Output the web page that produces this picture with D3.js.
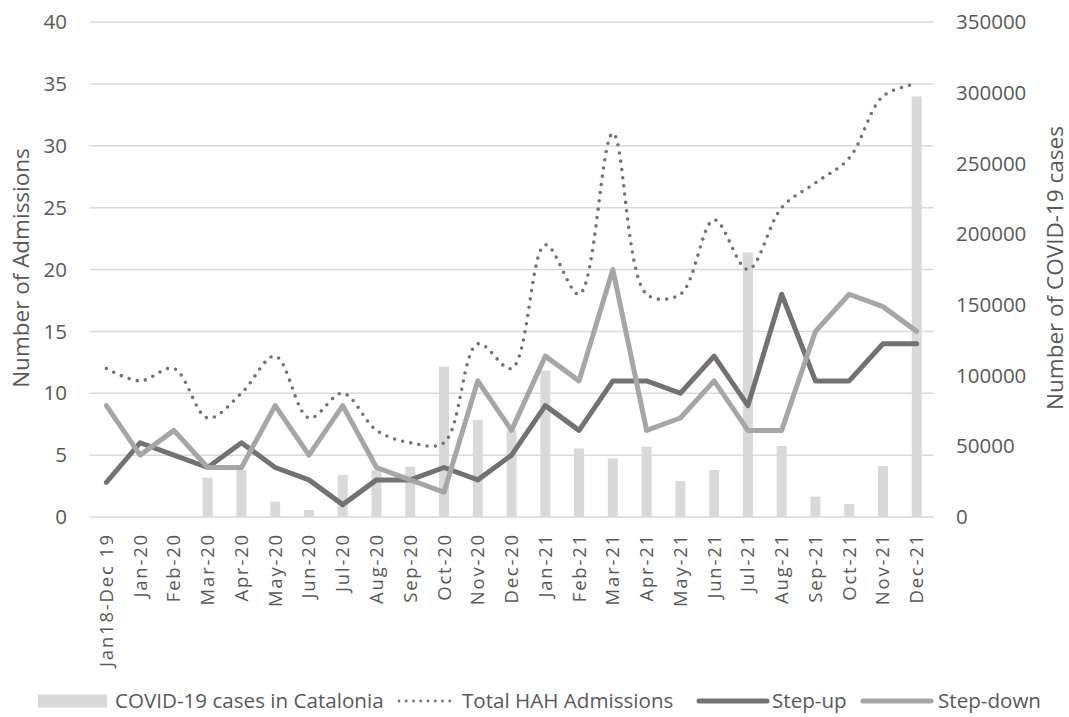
<!DOCTYPE html>
<html>
<head>
<meta charset="utf-8">
<script src="https://d3js.org/d3.v7.min.js"></script>
<style>
  body { margin: 0; background: #fff; }
  text { font-family: "Open Sans", sans-serif; fill: #595959; }
</style>
</head>
<body>
<div id="my_dataviz"></div>
<script>
var months = ["Jan18-Dec 19","Jan-20","Feb-20","Mar-20","Apr-20","May-20","Jun-20","Jul-20","Aug-20","Sep-20","Oct-20","Nov-20","Dec-20",
  "Jan-21","Feb-21","Mar-21","Apr-21","May-21","Jun-21","Jul-21","Aug-21","Sep-21","Oct-21","Nov-21","Dec-21"];
var covidCases = [0,0,0,27800,33200,10800,5000,29800,33200,35500,106300,68600,61500,
  103400,48500,41500,49700,25400,33200,187100,50200,14400,9200,36000,297400];
var totalHAH = [12,11,12,8,10,13,8,10,7,6,6,14,12,22,18,31,18,18,24,20,25,27,29,34,35];
var stepUp = [2.8,6,5,4,6,4,3,1,3,3,4,3,5,9,7,11,11,10,13,9,18,11,11,14,14];
var stepDown = [9,5,7,4,4,9,5,9,4,3,2,11,7,13,11,20,7,8,11,7,7,15,18,17,15];
var leftTicks = [0,5,10,15,20,25,30,35,40];
var rightTicks = [0,50000,100000,150000,200000,250000,300000,350000];

var width = 1069, height = 717;
var plot = {left: 89.5, right: 933.6, top: 22, bottom: 517};

var svg = d3.select("#my_dataviz")
  .append("svg")
  .attr("width", width)
  .attr("height", height);

var x = d3.scaleBand().domain(months).range([plot.left, plot.right]);
var yL = d3.scaleLinear().domain([0, 40]).range([plot.bottom, plot.top]);
var yR = d3.scaleLinear().domain([0, 350000]).range([plot.bottom, plot.top]);
var cx = function(d, i) { return x(months[i]) + x.bandwidth() / 2; };

// gridlines
svg.append("g").selectAll("line").data(leftTicks).enter().append("line")
  .attr("x1", plot.left).attr("x2", plot.right)
  .attr("y1", d => yL(d)).attr("y2", d => yL(d))
  .style("stroke", "#d9d9d9").style("stroke-width", 1.5);

// left axis labels
svg.append("g").selectAll("text").data(leftTicks).enter().append("text")
  .attr("x", 67).attr("y", d => yL(d)).attr("dy", "0.35em")
  .style("text-anchor", "end").style("font-size", "20.5px")
  .text(d => d);

// right axis labels
svg.append("g").selectAll("text").data(rightTicks).enter().append("text")
  .attr("x", 956).attr("y", d => yR(d)).attr("dy", "0.35em")
  .style("text-anchor", "start").style("font-size", "20.5px")
  .text(d => d);

// axis titles
svg.append("text")
  .attr("transform", "translate(29,268) rotate(-90)")
  .style("text-anchor", "middle").style("font-size", "22.5px")
  .text("Number of Admissions");
svg.append("text")
  .attr("transform", "translate(1063,268) rotate(-90)")
  .style("text-anchor", "middle").style("font-size", "22.5px")
  .text("Number of COVID-19 cases");

// x labels
svg.append("g").selectAll("text").data(months).enter().append("text")
  .attr("transform", d => "translate(" + (x(d) + x.bandwidth() / 2 + 6.5) + ",533) rotate(-90)")
  .style("text-anchor", "end").style("font-size", "18.5px")
  .style("letter-spacing", "1.8px")
  .text(d => d);

// bars
svg.append("g").selectAll("rect").data(covidCases).enter().append("rect")
  .attr("x", (d, i) => cx(d, i) - 5)
  .attr("width", 10)
  .attr("y", d => yR(d))
  .attr("height", d => plot.bottom - yR(d))
  .attr("fill", "#d9d9d9");

// lines
var smooth = d3.line().x(cx).y(d => yL(d)).curve(d3.curveCatmullRom);
var straight = d3.line().x(cx).y(d => yL(d));

svg.append("path").datum(totalHAH)
  .attr("d", smooth).attr("fill", "none")
  .style("stroke", "#767171").style("stroke-width", 3.6)
  .style("stroke-linecap", "round").style("stroke-dasharray", "0,8.3");

svg.append("path").datum(stepUp)
  .attr("d", straight).attr("fill", "none")
  .style("stroke", "#767171").style("stroke-width", 5)
  .style("stroke-linejoin", "round").style("stroke-linecap", "round");

svg.append("path").datum(stepDown)
  .attr("d", straight).attr("fill", "none")
  .style("stroke", "#a6a6a6").style("stroke-width", 5)
  .style("stroke-linejoin", "round").style("stroke-linecap", "round");

// legend
var legend = svg.append("g");
var ly = 701;
legend.append("rect").attr("x", 38).attr("y", ly - 6.5).attr("width", 69).attr("height", 13).attr("fill", "#d9d9d9");
legend.append("text").attr("x", 115).attr("y", ly).attr("dy", "0.35em").style("font-size", "20.6px").text("COVID-19 cases in Catalonia");
legend.append("line").attr("x1", 399).attr("x2", 457).attr("y1", ly).attr("y2", ly)
  .style("stroke", "#767171").style("stroke-width", 2.8).style("stroke-linecap", "round").style("stroke-dasharray", "0,7.25");
legend.append("text").attr("x", 462).attr("y", ly).attr("dy", "0.35em").style("font-size", "20.6px").text("Total HAH Admissions");
legend.append("line").attr("x1", 699).attr("x2", 767).attr("y1", ly).attr("y2", ly)
  .style("stroke", "#767171").style("stroke-width", 5).style("stroke-linecap", "round");
legend.append("text").attr("x", 772).attr("y", ly).attr("dy", "0.35em").style("font-size", "20.6px").text("Step-up");
legend.append("line").attr("x1", 863).attr("x2", 931).attr("y1", ly).attr("y2", ly)
  .style("stroke", "#a6a6a6").style("stroke-width", 5).style("stroke-linecap", "round");
legend.append("text").attr("x", 938).attr("y", ly).attr("dy", "0.35em").style("font-size", "20.6px").text("Step-down");
</script>
</body>
</html>
